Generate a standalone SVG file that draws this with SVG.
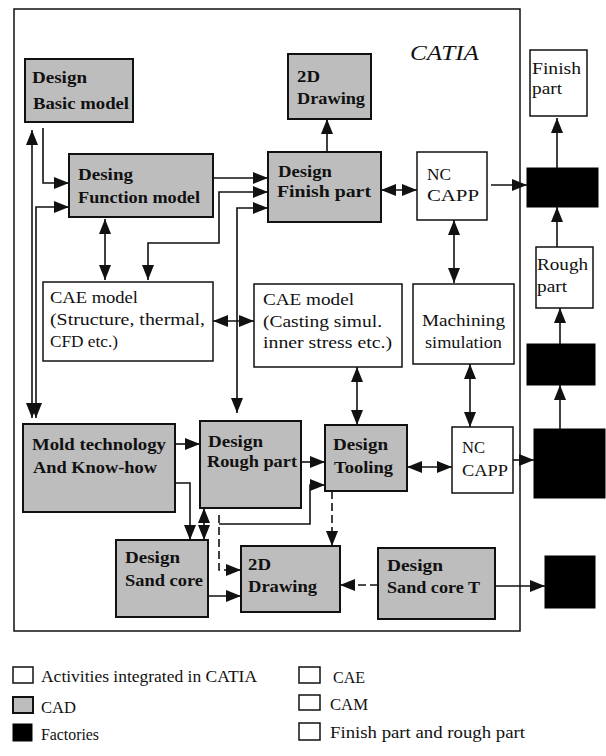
<svg xmlns="http://www.w3.org/2000/svg" width="606" height="756" viewBox="0 0 606 756">
<style>
.g{fill:#bdbdbd;stroke:#111;stroke-width:2}
.w{fill:#fff;stroke:#111;stroke-width:1.5}
.k{fill:#000;stroke:#000;stroke-width:1}
.b{font-family:"Liberation Serif","Times New Roman",serif;font-weight:bold;font-size:17px;fill:#111}
.r{font-family:"Liberation Serif","Times New Roman",serif;font-size:16px;fill:#111}
.c path{fill:none;stroke:#111;stroke-width:1.6}
.c .d{stroke-dasharray:8 4}
.e{marker-end:url(#ah)}
.s{marker-start:url(#ah)}
</style>
<defs>
<marker id="ah" markerUnits="userSpaceOnUse" markerWidth="16" markerHeight="12" refX="15" refY="6" orient="auto-start-reverse">
<path d="M0,0 L15,6 L0,12 z" fill="#111"/>
</marker>
</defs>
<rect width="606" height="756" fill="#fff"/>
<rect id="catia-frame" x="14" y="9" width="506" height="622" fill="none" stroke="#111" stroke-width="1.5"/>
<text x="410" y="60" font-family="Liberation Serif,serif" font-style="italic" font-size="21" fill="#111" textLength="69" lengthAdjust="spacingAndGlyphs">CATIA</text>

<g id="basic-model"><rect class="g" x="25" y="59" width="108" height="63"/>
<text class="b" x="32" y="83" textLength="55" lengthAdjust="spacingAndGlyphs">Design</text>
<text class="b" x="33" y="109" textLength="96" lengthAdjust="spacingAndGlyphs">Basic model</text></g>

<g id="drawing-top"><rect class="g" x="288" y="54" width="83" height="65"/>
<text class="b" x="297" y="82" textLength="23" lengthAdjust="spacingAndGlyphs">2D</text>
<text class="b" x="297" y="104" textLength="68" lengthAdjust="spacingAndGlyphs">Drawing</text></g>

<g id="function-model"><rect class="g" x="69" y="154" width="144" height="63"/>
<text class="b" x="78" y="180" textLength="55" lengthAdjust="spacingAndGlyphs">Desing</text>
<text class="b" x="78" y="203" textLength="122" lengthAdjust="spacingAndGlyphs">Function model</text></g>

<g id="finish-design"><rect class="g" x="268" y="152" width="113" height="70"/>
<text class="b" x="278" y="177" textLength="54" lengthAdjust="spacingAndGlyphs">Design</text>
<text class="b" x="277" y="197" textLength="94" lengthAdjust="spacingAndGlyphs">Finish part</text></g>

<g id="nc-capp-top"><rect class="w" x="417" y="152" width="70" height="68"/>
<text class="r" x="427" y="180" textLength="24" lengthAdjust="spacingAndGlyphs">NC</text>
<text class="r" x="427" y="201" textLength="52" lengthAdjust="spacingAndGlyphs">CAPP</text></g>

<g id="finish-part"><rect class="w" x="530" y="50" width="57" height="66"/>
<text class="r" x="532" y="74" textLength="49" lengthAdjust="spacingAndGlyphs">Finish</text>
<text class="r" x="532" y="94" textLength="30" lengthAdjust="spacingAndGlyphs">part</text></g>

<g id="factory-1"><rect class="k" x="527" y="168" width="71" height="39"/></g>

<g id="rough-part"><rect class="w" x="536" y="247" width="57" height="61"/>
<text class="r" x="537" y="270" textLength="51" lengthAdjust="spacingAndGlyphs">Rough</text>
<text class="r" x="537" y="292" textLength="30" lengthAdjust="spacingAndGlyphs">part</text></g>

<g id="factory-2"><rect class="k" x="527" y="344" width="68" height="41"/></g>
<g id="factory-3"><rect class="k" x="534" y="429" width="71" height="69"/></g>
<g id="factory-4"><rect class="k" x="545" y="556" width="50" height="52"/></g>

<g id="cae-left"><rect class="w" x="43" y="282" width="170" height="79"/>
<text class="r" x="50" y="303" textLength="88" lengthAdjust="spacingAndGlyphs">CAE model</text>
<text class="r" x="50" y="325" textLength="155" lengthAdjust="spacingAndGlyphs">(Structure, thermal,</text>
<text class="r" x="50" y="347" textLength="68" lengthAdjust="spacingAndGlyphs">CFD etc.)</text></g>

<g id="cae-mid"><rect class="w" x="254" y="284" width="148" height="83"/>
<text class="r" x="263" y="305" textLength="91" lengthAdjust="spacingAndGlyphs">CAE model</text>
<text class="r" x="263" y="327" textLength="119" lengthAdjust="spacingAndGlyphs">(Casting simul.</text>
<text class="r" x="263" y="348" textLength="129" lengthAdjust="spacingAndGlyphs">inner stress etc.)</text></g>

<g id="machining"><rect class="w" x="413" y="284" width="101" height="80"/>
<text class="r" x="422" y="326" textLength="83" lengthAdjust="spacingAndGlyphs">Machining</text>
<text class="r" x="425" y="348" textLength="77" lengthAdjust="spacingAndGlyphs">simulation</text></g>

<g id="mold"><rect class="g" x="23" y="424" width="152" height="88"/>
<text class="b" x="32" y="450" textLength="134" lengthAdjust="spacingAndGlyphs">Mold technology</text>
<text class="b" x="33" y="473" textLength="124" lengthAdjust="spacingAndGlyphs">And Know-how</text></g>

<g id="rough-design"><rect class="g" x="200" y="421" width="101" height="87"/>
<text class="b" x="208" y="447" textLength="55" lengthAdjust="spacingAndGlyphs">Design</text>
<text class="b" x="207" y="467" textLength="90" lengthAdjust="spacingAndGlyphs">Rough part</text></g>

<g id="tooling"><rect class="g" x="325" y="425" width="82" height="66"/>
<text class="b" x="333" y="450" textLength="55" lengthAdjust="spacingAndGlyphs">Design</text>
<text class="b" x="334" y="473" textLength="59" lengthAdjust="spacingAndGlyphs">Tooling</text></g>

<g id="nc-capp-bottom"><rect class="w" x="452" y="427" width="61" height="66"/>
<text class="r" x="462" y="453" textLength="23" lengthAdjust="spacingAndGlyphs">NC</text>
<text class="r" x="462" y="476" textLength="46" lengthAdjust="spacingAndGlyphs">CAPP</text></g>

<g id="sand-core"><rect class="g" x="116" y="540" width="92" height="77"/>
<text class="b" x="125" y="563" textLength="55" lengthAdjust="spacingAndGlyphs">Design</text>
<text class="b" x="125" y="586" textLength="78" lengthAdjust="spacingAndGlyphs">Sand core</text></g>

<g id="drawing-bottom"><rect class="g" x="241" y="546" width="99" height="66"/>
<text class="b" x="248" y="570" textLength="23" lengthAdjust="spacingAndGlyphs">2D</text>
<text class="b" x="248" y="592" textLength="69" lengthAdjust="spacingAndGlyphs">Drawing</text></g>

<g id="sand-core-t"><rect class="g" x="378" y="548" width="117" height="71"/>
<text class="b" x="387" y="571" textLength="56" lengthAdjust="spacingAndGlyphs">Design</text>
<text class="b" x="387" y="593" textLength="93" lengthAdjust="spacingAndGlyphs">Sand core T</text></g>

<g id="connectors" class="c">
<path class="e" d="M43,128 V183 H69"/>
<path class="e s" d="M32,130 V418"/>
<path class="e s" d="M69,207 H36 V418"/>
<path class="e" d="M213,178 H268"/>
<path class="e s" d="M148,280 V243 H219 V192 H268"/>
<path class="e s" d="M237,413 V208 H268"/>
<path class="e s" d="M105,219 V280"/>
<path class="e s" d="M213,321 H254"/>
<path class="e" d="M327,152 V119"/>
<path class="e s" d="M381,190 H417"/>
<path class="e" d="M491,185 H527"/>
<path class="e" d="M557,168 V118"/>
<path class="e" d="M557,247 V207"/>
<path class="e" d="M560,344 V308"/>
<path class="e" d="M560,429 V385"/>
<path class="e s" d="M454,220 V283"/>
<path class="e s" d="M470,364 V427"/>
<path class="e s" d="M357,367 V425"/>
<path class="e" d="M175,444 H200"/>
<path class="e" d="M301,462 H325"/>
<path class="e s" d="M407,467 H452"/>
<path class="e" d="M513,460 H534"/>
<path class="e" d="M495,586 H545"/>
<path class="e d" d="M378,585 H340"/>
<path class="e d" d="M332,491 V546"/>
<path class="e" d="M175,483 H190 V540"/>
<path class="e s" d="M204,508 V540"/>
<path class="e" d="M219,524 H310 V485 H325"/>
<path class="e d" d="M219,515 V570 H241"/>
<path class="e" d="M208,596 H241"/>
</g>

<g id="legend">
<rect class="w" x="13" y="667" width="20" height="16"/>
<rect class="g" x="13" y="697" width="20" height="16" stroke-width="1.5"/>
<rect class="k" x="13" y="724" width="19" height="17"/>
<rect class="w" x="299" y="667" width="21" height="16"/>
<rect class="w" x="299" y="695" width="21" height="15"/>
<rect class="w" x="299" y="723" width="21" height="17"/>
<text class="r" x="41" y="682" textLength="216" lengthAdjust="spacingAndGlyphs">Activities integrated in CATIA</text>
<text class="r" x="41" y="713" textLength="35" lengthAdjust="spacingAndGlyphs">CAD</text>
<text class="r" x="41" y="740" textLength="58" lengthAdjust="spacingAndGlyphs">Factories</text>
<text class="r" x="333" y="683" textLength="32" lengthAdjust="spacingAndGlyphs">CAE</text>
<text class="r" x="330" y="710" textLength="38" lengthAdjust="spacingAndGlyphs">CAM</text>
<text class="r" x="330" y="738" textLength="195" lengthAdjust="spacingAndGlyphs">Finish part and rough part</text>
</g>
</svg>
